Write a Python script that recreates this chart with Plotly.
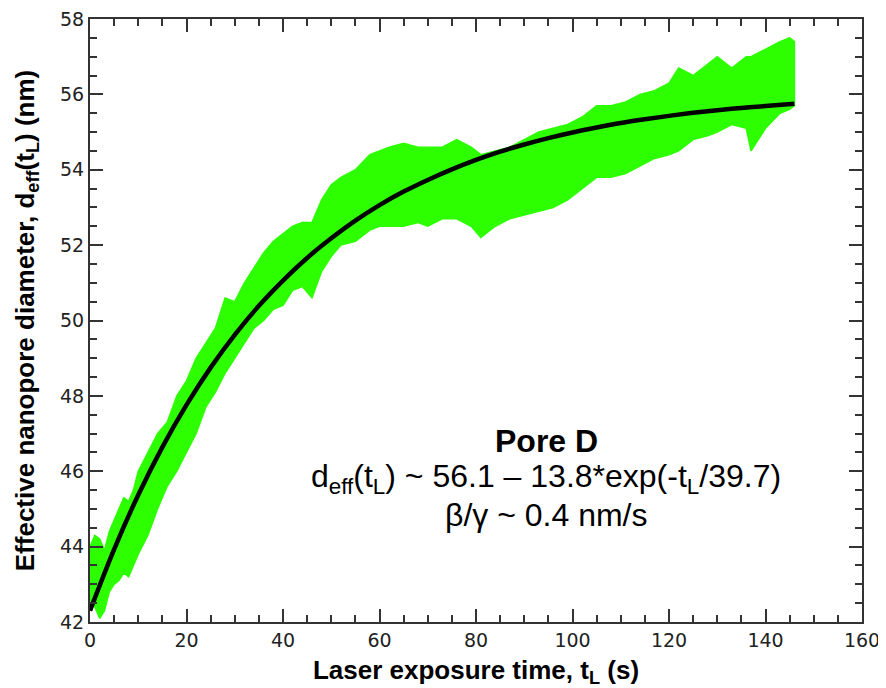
import plotly.graph_objects as go

t_band = [0, 1, 2, 3, 4, 5, 6, 7, 8, 9, 10, 12, 14, 16, 18, 20, 22, 24, 26, 28,
          30, 32, 34, 36, 38, 40, 42, 44, 46, 48, 50, 52, 55, 58, 60, 62, 65, 68,
          70, 73, 76, 79, 81, 84, 87, 90, 93, 96, 99, 102, 105, 108, 111, 114,
          117, 120, 122, 125, 128, 130, 133, 136, 137, 140, 143, 145, 146]
d_lower = [42.5, 42.4, 42.1, 42.3, 42.8, 43.0, 43.1, 43.3, 43.2, 43.5, 43.8, 44.3,
           45.0, 45.6, 46.0, 46.5, 47.0, 47.7, 48.1, 48.6, 49.0, 49.4, 49.8, 50.0,
           50.3, 50.4, 50.8, 50.9, 50.6, 51.3, 51.7, 52.0, 52.1, 52.4, 52.5, 52.5,
           52.5, 52.6, 52.5, 52.7, 52.7, 52.5, 52.2, 52.5, 52.7, 52.8, 52.9, 53.0,
           53.2, 53.5, 53.8, 53.8, 53.9, 54.1, 54.3, 54.4, 54.5, 54.8, 54.9, 55.0,
           55.2, 55.1, 54.5, 55.1, 55.5, 55.6, 55.7]
d_upper = [44.0, 44.3, 44.2, 43.9, 44.4, 44.7, 45.0, 45.3, 45.2, 45.5, 46.0, 46.5,
           47.0, 47.3, 48.0, 48.4, 49.0, 49.4, 49.8, 50.6, 50.5, 51.0, 51.4, 51.8,
           52.1, 52.3, 52.5, 52.6, 52.6, 53.2, 53.6, 53.8, 54.0, 54.4, 54.5, 54.6,
           54.7, 54.6, 54.6, 54.6, 54.8, 54.6, 54.4, 54.5, 54.6, 54.8, 55.0, 55.1,
           55.2, 55.4, 55.7, 55.7, 55.8, 56.0, 56.1, 56.3, 56.7, 56.5, 56.8, 57.0,
           56.7, 57.0, 57.0, 57.2, 57.4, 57.5, 57.4]

# Black fit curve
t_fit = [0, 5, 10, 15, 20, 25, 30, 35, 40, 45, 50, 55, 60, 65, 70, 75, 80, 85,
         90, 95, 100, 105, 110, 115, 120, 125, 130, 135, 140, 146]
d_fit = [42.3, 43.93, 45.37, 46.64, 47.76, 48.75, 49.62, 50.39, 51.06, 51.66,
         52.18, 52.65, 53.06, 53.42, 53.73, 54.01, 54.26, 54.48, 54.67, 54.84,
         54.99, 55.12, 55.24, 55.34, 55.43, 55.51, 55.58, 55.64, 55.69, 55.75]

x_ticks = [0, 20, 40, 60, 80, 100, 120, 140, 160]
y_ticks = [42, 44, 46, 48, 50, 52, 54, 56, 58]

GREEN = "#2dff00"
AX = "#333333"

fig = go.Figure()
fig.add_trace(go.Scatter(
    x=t_band + t_band[::-1], y=d_upper + d_lower[::-1],
    fill="toself", fillcolor=GREEN, mode="lines",
    line=dict(color=GREEN, width=1.5), hoverinfo="skip", showlegend=False))
fig.add_trace(go.Scatter(
    x=t_fit, y=d_fit, mode="lines", line=dict(color="black", width=4.5, shape="spline"),
    showlegend=False))

axis_common = dict(
    showline=True, linecolor=AX, linewidth=2, mirror="ticks",
    ticks="inside", ticklen=13, tickwidth=1.5, tickcolor=AX,
    showgrid=False, zeroline=False, automargin=False,
    ticklabeloverflow="allow",
    tickfont=dict(family="DejaVu Sans", size=19, color="#222222"),
)

title_font = dict(family="Liberation Sans", size=26, color="black", weight="bold")

fig.update_xaxes(
    range=[0, 160], tickvals=x_ticks,
    minor=dict(dtick=5, ticks="inside", ticklen=7, tickwidth=1.5, tickcolor=AX),
    title=dict(text="Laser exposure time, t<sub>L</sub> (s)", font=title_font, standoff=13),
    **axis_common)
fig.update_yaxes(
    range=[42, 58], tickvals=y_ticks,
    minor=dict(dtick=0.5, ticks="inside", ticklen=7, tickwidth=1.5, tickcolor=AX),
    title=dict(text="Effective nanopore diameter, d<sub>eff</sub>(t<sub>L</sub>) (nm)",
               font=title_font, standoff=18),
    **axis_common)

ann_font = dict(family="Liberation Sans", size=32, color="black")
cx = (546 - 90) / 772
def py(ypix):
    return (622 - ypix) / 603

fig.add_annotation(x=cx, y=py(441), xref="paper", yref="paper", showarrow=False,
                   text="<b>Pore D</b>", font=ann_font, xanchor="center", yanchor="middle")
fig.add_annotation(x=cx, y=py(478), xref="paper", yref="paper", showarrow=False,
                   text="d<sub>eff</sub>(t<sub>L</sub>) ~ 56.1 – 13.8*exp(-t<sub>L</sub>/39.7)",
                   font=ann_font, xanchor="center", yanchor="middle")
fig.add_annotation(x=cx, y=py(515), xref="paper", yref="paper", showarrow=False,
                   text="β/γ ~ 0.4 nm/s", font=ann_font, xanchor="center", yanchor="middle")

# page body has an 8px margin, so the figure is reduced by 8px and margins offset
fig.update_layout(
    width=878, height=680,
    margin=dict(l=82, r=24, t=11, b=66),
    paper_bgcolor="white", plot_bgcolor="white",
    font=dict(family="Liberation Sans"),
)

fig.write_html("out.html")
